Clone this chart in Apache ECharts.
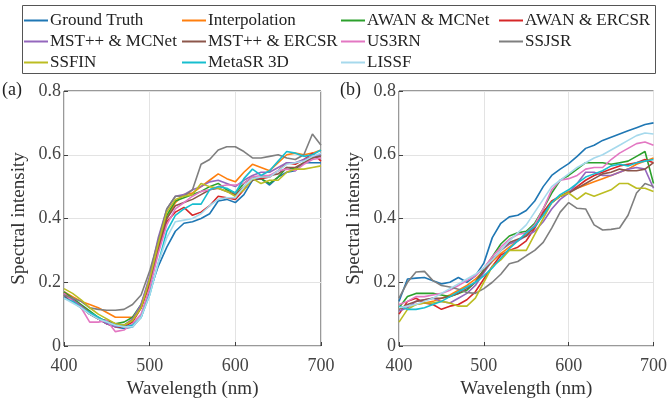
<!DOCTYPE html>
<html><head><meta charset="utf-8">
<script src="https://cdn.jsdelivr.net/npm/echarts@6/dist/echarts.min.js"></script>
<style>html,body{margin:0;padding:0;background:#fff}#c{width:670px;height:404px}</style>
</head><body><div id="c"></div>
<script>
const wavelengths = [400,410,420,430,440,450,460,470,480,490,500,510,520,530,540,550,560,570,580,590,600,610,620,630,640,650,660,670,680,690,700];
const seriesNames = ['Ground Truth','Interpolation','AWAN & MCNet','AWAN & ERCSR','MST++ & MCNet','MST++ & ERCSR','US3RN','SSJSR','SSFIN','MetaSR 3D','LISSF'];
const xTicks = [400,500,600,700];
const yTicks = [0,0.2,0.4,0.6,0.8];

// Panel (a)
const a_groundTruth = [0.155,0.14,0.125,0.10,0.085,0.07,0.06,0.055,0.06,0.09,0.17,0.25,0.31,0.36,0.385,0.39,0.40,0.415,0.455,0.46,0.45,0.475,0.52,0.525,0.505,0.53,0.545,0.55,0.575,0.575,0.575];
const a_interpolation = [0.17,0.155,0.14,0.13,0.12,0.105,0.09,0.09,0.09,0.12,0.19,0.30,0.40,0.45,0.475,0.48,0.50,0.52,0.54,0.525,0.515,0.545,0.57,0.56,0.55,0.575,0.60,0.605,0.60,0.605,0.615];
const a_awanMcnet = [0.17,0.15,0.13,0.11,0.09,0.075,0.07,0.075,0.09,0.13,0.21,0.31,0.41,0.455,0.465,0.475,0.485,0.50,0.51,0.49,0.48,0.51,0.53,0.525,0.51,0.53,0.56,0.555,0.575,0.59,0.60];
const a_awanErcsr = [0.165,0.145,0.125,0.105,0.085,0.07,0.06,0.06,0.075,0.12,0.20,0.30,0.39,0.42,0.435,0.41,0.42,0.44,0.47,0.465,0.46,0.49,0.525,0.525,0.53,0.55,0.575,0.57,0.585,0.605,0.58];
const a_mstMcnet = [0.16,0.145,0.125,0.10,0.085,0.07,0.06,0.065,0.085,0.13,0.22,0.34,0.43,0.47,0.475,0.49,0.50,0.515,0.52,0.51,0.50,0.52,0.535,0.545,0.545,0.56,0.575,0.575,0.585,0.595,0.60];
const a_mstErcsr = [0.16,0.14,0.12,0.10,0.085,0.08,0.07,0.065,0.08,0.12,0.20,0.31,0.40,0.44,0.45,0.46,0.475,0.49,0.495,0.485,0.475,0.50,0.52,0.53,0.535,0.54,0.56,0.56,0.575,0.59,0.595];
const a_us3rn = [0.165,0.14,0.12,0.075,0.075,0.08,0.045,0.05,0.07,0.10,0.18,0.29,0.38,0.43,0.45,0.47,0.485,0.49,0.50,0.505,0.505,0.51,0.53,0.535,0.535,0.55,0.555,0.55,0.57,0.585,0.59];
const a_ssjsr = [0.16,0.15,0.14,0.12,0.115,0.112,0.112,0.115,0.13,0.16,0.235,0.33,0.43,0.47,0.47,0.49,0.57,0.585,0.615,0.625,0.625,0.61,0.59,0.59,0.595,0.60,0.59,0.585,0.60,0.665,0.63];
const a_ssfin = [0.18,0.165,0.145,0.12,0.10,0.085,0.07,0.065,0.08,0.12,0.21,0.32,0.42,0.46,0.47,0.475,0.51,0.50,0.495,0.485,0.47,0.49,0.525,0.51,0.52,0.52,0.545,0.555,0.555,0.56,0.565];
const a_metasr = [0.15,0.14,0.12,0.105,0.09,0.075,0.065,0.06,0.065,0.09,0.16,0.26,0.36,0.41,0.43,0.445,0.445,0.49,0.50,0.495,0.48,0.525,0.555,0.535,0.55,0.58,0.61,0.605,0.595,0.60,0.615];
const a_lissf = [0.15,0.135,0.12,0.10,0.085,0.075,0.065,0.06,0.06,0.09,0.16,0.26,0.34,0.39,0.395,0.40,0.415,0.44,0.46,0.465,0.465,0.50,0.525,0.53,0.53,0.55,0.57,0.575,0.58,0.595,0.605];

// Panel (b)
const b_groundTruth = [0.14,0.21,0.213,0.215,0.205,0.195,0.20,0.215,0.20,0.22,0.26,0.34,0.385,0.405,0.41,0.425,0.455,0.50,0.535,0.555,0.572,0.595,0.62,0.63,0.645,0.655,0.665,0.675,0.685,0.695,0.70];
const b_interpolation = [0.12,0.125,0.13,0.135,0.14,0.15,0.16,0.175,0.19,0.21,0.235,0.265,0.29,0.31,0.33,0.35,0.38,0.42,0.45,0.47,0.485,0.495,0.505,0.515,0.525,0.535,0.545,0.555,0.57,0.58,0.59];
const b_awanMcnet = [0.12,0.155,0.165,0.165,0.165,0.16,0.155,0.165,0.175,0.20,0.24,0.28,0.32,0.345,0.355,0.36,0.385,0.43,0.48,0.52,0.535,0.555,0.575,0.575,0.575,0.57,0.575,0.58,0.595,0.61,0.51];
const b_awanErcsr = [0.10,0.14,0.15,0.135,0.13,0.115,0.125,0.13,0.145,0.17,0.21,0.25,0.285,0.30,0.31,0.33,0.37,0.42,0.455,0.47,0.48,0.50,0.52,0.535,0.545,0.555,0.565,0.57,0.575,0.585,0.575];
const b_mstMcnet = [0.11,0.12,0.14,0.145,0.15,0.14,0.135,0.15,0.165,0.19,0.23,0.27,0.30,0.32,0.33,0.345,0.36,0.39,0.43,0.46,0.48,0.51,0.545,0.545,0.535,0.535,0.545,0.555,0.56,0.555,0.495];
const b_mstErcsr = [0.115,0.13,0.14,0.145,0.15,0.15,0.155,0.165,0.18,0.20,0.235,0.27,0.30,0.325,0.335,0.345,0.375,0.415,0.45,0.47,0.48,0.495,0.51,0.525,0.54,0.545,0.555,0.55,0.55,0.555,0.575];
const b_us3rn = [0.13,0.14,0.155,0.155,0.16,0.165,0.175,0.19,0.205,0.22,0.245,0.28,0.31,0.335,0.35,0.355,0.38,0.43,0.49,0.52,0.525,0.535,0.555,0.56,0.56,0.585,0.605,0.62,0.635,0.64,0.63];
const b_ssjsr = [0.15,0.20,0.232,0.234,0.205,0.19,0.185,0.178,0.168,0.165,0.18,0.20,0.225,0.258,0.265,0.283,0.30,0.325,0.37,0.42,0.45,0.432,0.43,0.38,0.364,0.366,0.37,0.41,0.48,0.51,0.50];
const b_ssfin = [0.075,0.115,0.13,0.135,0.135,0.14,0.135,0.125,0.125,0.15,0.20,0.25,0.27,0.30,0.30,0.30,0.35,0.40,0.45,0.47,0.48,0.46,0.48,0.47,0.48,0.49,0.51,0.51,0.495,0.495,0.485];
const b_metasr = [0.125,0.115,0.115,0.12,0.13,0.14,0.155,0.17,0.185,0.20,0.22,0.245,0.275,0.305,0.33,0.355,0.375,0.41,0.45,0.475,0.49,0.51,0.53,0.54,0.55,0.565,0.57,0.565,0.575,0.58,0.585];
const b_lissf = [0.12,0.125,0.13,0.14,0.15,0.165,0.18,0.195,0.21,0.225,0.245,0.27,0.30,0.33,0.355,0.38,0.42,0.46,0.50,0.52,0.54,0.56,0.575,0.59,0.60,0.615,0.63,0.645,0.66,0.668,0.665];

const panelA = [a_groundTruth,a_interpolation,a_awanMcnet,a_awanErcsr,a_mstMcnet,a_mstErcsr,a_us3rn,a_ssjsr,a_ssfin,a_metasr,a_lissf];
const panelB = [b_groundTruth,b_interpolation,b_awanMcnet,b_awanErcsr,b_mstMcnet,b_mstErcsr,b_us3rn,b_ssjsr,b_ssfin,b_metasr,b_lissf];
const colors = ['#1f77b4','#ff7f0e','#2ca02c','#d62728','#9467bd','#8c564b','#e377c2','#7f7f7f','#bcbd22','#17becf','#a6d9ec'];

const FONT = 'Liberation Serif';
const axisColor = '#404040';

function xAxis(gi){
  return {type:'value', gridIndex:gi, min:400, max:700, interval:100,
    name:'Wavelength (nm)', nameLocation:'middle', nameGap:34,
    nameTextStyle:{fontFamily:FONT,fontSize:19,color:'#333'},
    axisLine:{show:false}, axisTick:{inside:true,length:4,lineStyle:{color:axisColor}},
    axisLabel:{fontFamily:FONT,fontSize:18,color:'#444',margin:11, formatter:v=>xTicks.includes(v)?String(v):''},
    splitLine:{lineStyle:{color:'#e3e3e3',width:1}}};
}
function yAxis(gi){
  return {type:'value', gridIndex:gi, min:0, max:0.8, interval:0.2,
    name:'Spectral intensity', nameLocation:'middle', nameGap:35,
    nameTextStyle:{fontFamily:FONT,fontSize:19,color:'#333'},
    axisLine:{show:false}, axisTick:{inside:true,length:4,lineStyle:{color:axisColor}},
    axisLabel:{fontFamily:FONT,fontSize:18,color:'#444',margin:3,
      formatter:v=>{const t=yTicks.find(k=>Math.abs(k-v)<1e-9); return t===undefined?'':(t===0?'0':t.toFixed(1));}},
    splitLine:{lineStyle:{color:'#e3e3e3',width:1}}};
}

const series = [];
[panelA,panelB].forEach((panel,gi)=>{
  panel.forEach((vals,i)=>{
    series.push({name:seriesNames[i], type:'line', xAxisIndex:gi, yAxisIndex:gi,
      data:wavelengths.map((w,k)=>[w,vals[k]]), showSymbol:false, symbol:'none',
      lineStyle:{width:1.6,color:colors[i]}, itemStyle:{color:colors[i]}, z:2, animation:false});
  });
});

const colX = [24,182,341,499];
const rowY = [12,33,54];
const legends = seriesNames.map((n,i)=>({
  left: colX[i%4], top: rowY[Math.floor(i/4)], data:[n], icon:'rect', itemWidth:24, itemHeight:2, itemGap:0,
  padding:0, textStyle:{fontFamily:FONT,fontSize:17,color:'#222',padding:[0,0,0,-3]}, selectedMode:false
}));

const chart = echarts.init(document.getElementById('c'),null,{renderer:'canvas'});
chart.setOption({
  animation:false,
  color:colors,
  grid:[{left:64,top:91,width:257,height:262,show:true,borderColor:'#333',borderWidth:1,backgroundColor:'transparent'},
        {left:399,top:91,width:257,height:262,show:true,borderColor:'#333',borderWidth:1,backgroundColor:'transparent'}],
  xAxis:[xAxis(0),xAxis(1)],
  yAxis:[yAxis(0),yAxis(1)],
  legend:legends,
  series:series,
  graphic:[
    {type:'rect',shape:{x:22.5,y:5.5,width:633,height:68},style:{fill:'none',stroke:'#555',lineWidth:1},z:-1},
    {type:'text',left:2,top:81,style:{text:'(a)',font:'18px "Liberation Serif"',fill:'#222'}},
    {type:'text',left:340,top:81,style:{text:'(b)',font:'18px "Liberation Serif"',fill:'#222'}}
  ]
});
</script></body></html>
